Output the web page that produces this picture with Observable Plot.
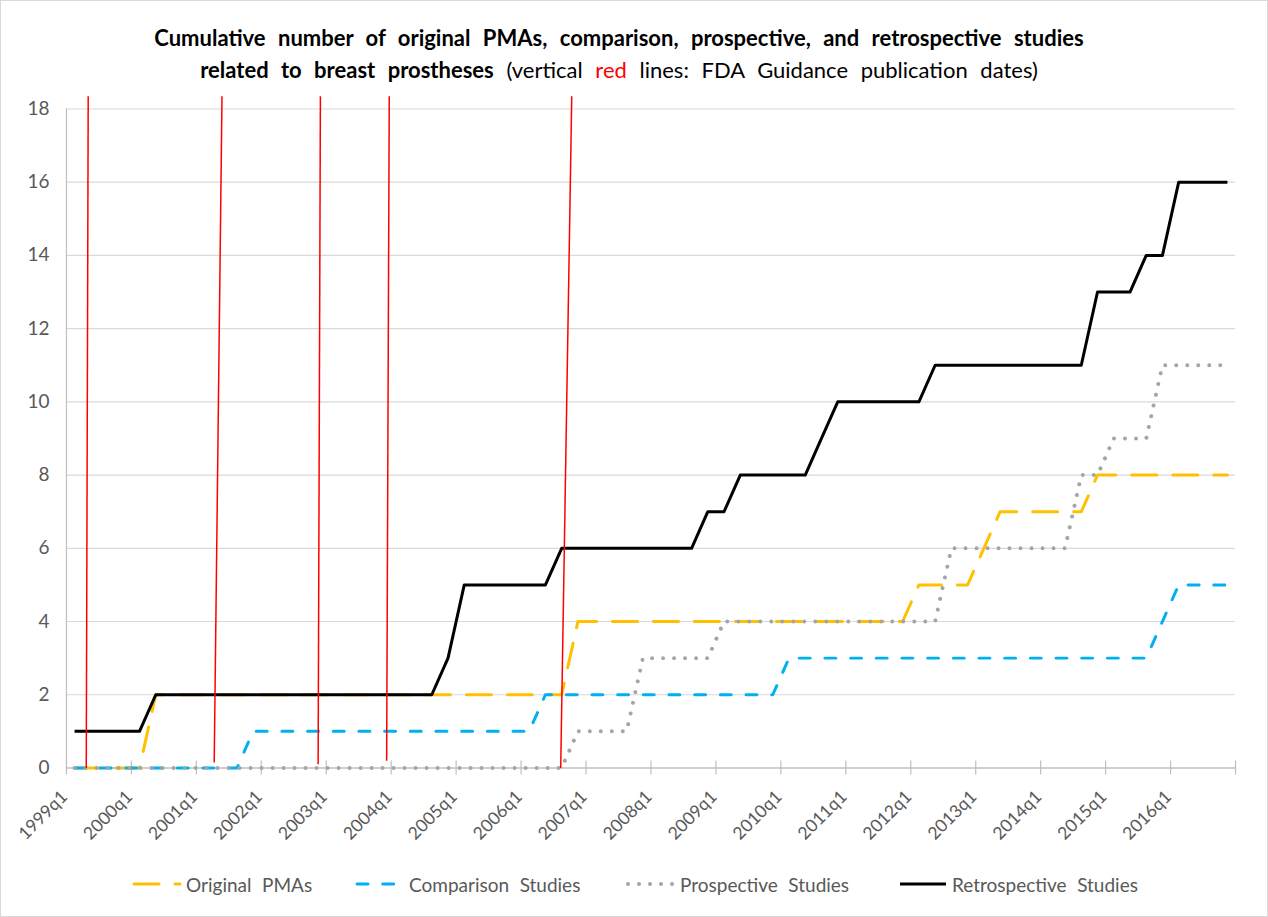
<!DOCTYPE html>
<html>
<head>
<meta charset="utf-8">
<script src="https://cdn.jsdelivr.net/npm/d3@7"></script>
<script src="https://cdn.jsdelivr.net/npm/@observablehq/plot@0.6"></script>
<style>
  html, body { margin: 0; padding: 0; background: #fff; }
  #wrap { position: relative; width: 1266px; height: 915px; border: 1px solid #d9d9d9; overflow: hidden;
          font-family: Lato, "Open Sans", sans-serif; }
  #title { position: absolute; left: 0; top: 21px; width: 1236px; text-align: center; font-size: 22px;
           line-height: 32px; color: #000; word-spacing: 0.32em; }
  #title b { font-weight: bold; }
  #chart { position: absolute; left: -1px; top: 79px; }
  .leg { position: absolute; top: 871px; height: 24px; display: flex; align-items: center;
         font-size: 19px; color: #595959; word-spacing: 0.3em; white-space: nowrap; }
  .leg svg { margin-right: 4px; }
</style>
</head>
<body>
<div id="wrap">
  <div id="title">
    <b>Cumulative number of original PMAs, comparison, prospective, and retrospective studies</b><br>
    <b>related to breast prostheses</b> (vertical <span style="color:#ff0000">red</span> lines: FDA Guidance publication dates)
  </div>
  <div id="chart"></div>
  <div id="legend"></div>
</div>
<script>
// ---- data (one value per quarter, 1999q1 .. 2016q4) ----
const tickLabels = ["1999q1","2000q1","2001q1","2002q1","2003q1","2004q1","2005q1","2006q1","2007q1",
                    "2008q1","2009q1","2010q1","2011q1","2012q1","2013q1","2014q1","2015q1","2016q1"];

const originalPMAs = [
  0,0,0,0,  0,2,2,2,  2,2,2,2,  2,2,2,2,  2,2,2,2,  2,2,2,2,  2,2,2,2,  2,2,2,4,  4,4,4,4,
  4,4,4,4,  4,4,4,4,  4,4,4,4,  4,4,4,4,  5,5,5,5,  6,7,7,7,  7,7,7,8,  8,8,8,8,  8,8,8,8];
const comparisonStudies = [
  0,0,0,0,  0,0,0,0,  0,0,0,1,  1,1,1,1,  1,1,1,1,  1,1,1,1,  1,1,1,1,  1,2,2,2,  2,2,2,2,
  2,2,2,2,  2,2,2,2,  3,3,3,3,  3,3,3,3,  3,3,3,3,  3,3,3,3,  3,3,3,3,  3,3,3,4,  5,5,5,5];
const prospectiveStudies = [
  0,0,0,0,  0,0,0,0,  0,0,0,0,  0,0,0,0,  0,0,0,0,  0,0,0,0,  0,0,0,0,  0,0,0,1,  1,1,1,3,
  3,3,3,3,  4,4,4,4,  4,4,4,4,  4,4,4,4,  4,4,6,6,  6,6,6,6,  6,6,8,8,  9,9,9,11, 11,11,11,11];
const retrospectiveStudies = [
  1,1,1,1,  1,2,2,2,  2,2,2,2,  2,2,2,2,  2,2,2,2,  2,2,2,3,  5,5,5,5,  5,5,6,6,  6,6,6,6,
  6,6,6,7,  7,8,8,8,  8,8,9,10, 10,10,10,10, 10,11,11,11, 11,11,11,11, 11,11,11,13, 13,13,14,14, 16,16,16,16];

// FDA guidance lines (quarter-axis position at top and bottom, as drawn)
const guidanceTopX    = [1.34, 9.58, 15.64, 19.88, 31.12];
const guidanceBottomX = [1.22, 9.10, 15.50, 19.72, 30.44];
const guidanceTopY    = [18.35, 18.35, 18.35, 18.35, 18.35];
const guidanceBottomY = [0, 0.15, 0.1, 0.2, 0];

const yTicks = [0,2,4,6,8,10,12,14,16,18];

const seriesNames = ["Original PMAs", "Comparison Studies", "Prospective Studies", "Retrospective Studies"];

// ---- build table ----
const rows = originalPMAs.map((v, i) => ({
  x: i + 0.5, orig: v, comp: comparisonStudies[i], pros: prospectiveStudies[i], retro: retrospectiveStudies[i]
}));
const nQ = originalPMAs.length;
const tickPos = tickLabels.map((d, i) => i * 4).concat([nQ]);
const labelRows = tickLabels.map((d, i) => ({pos: i * 4, label: d}));
const guides = guidanceTopX.map((d, i) => ({x1: guidanceBottomX[i], y1: guidanceBottomY[i], x2: d, y2: guidanceTopY[i]}));

const styles = {
  orig:  {stroke: "#FFC000", strokeWidth: 3, strokeDasharray: "25,16", strokeLinecap: "round"},
  comp:  {stroke: "#00B0F0", strokeWidth: 3, strokeDasharray: "11,14.7", strokeLinecap: "round"},
  pros:  {stroke: "#A5A5A5", strokeWidth: 4, strokeDasharray: "0.01,11", strokeLinecap: "round"},
  retro: {stroke: "#000000", strokeWidth: 3, strokeLinecap: "butt"}
};

const chart = Plot.plot({
  width: 1268,
  height: 770,
  marginLeft: 66,
  marginRight: 32,
  marginTop: 28.5,
  marginBottom: 82,
  style: {fontFamily: 'Lato, "Open Sans", sans-serif', fontSize: "17px", background: "transparent"},
  x: {type: "linear", domain: [0, nQ], axis: null},
  y: {domain: [0, 18], axis: null},
  marks: [
    Plot.ruleY(yTicks.filter(d => d > 0), {stroke: "#d9d9d9", strokeWidth: 1.2}),
    Plot.ruleX([0], {y1: 0, y2: 18, stroke: "#bfbfbf", strokeWidth: 1.2}),
    Plot.ruleY([0], {stroke: "#bfbfbf", strokeWidth: 1.5}),
    Plot.ruleX(tickPos, {x: d => d, y1: -0.19, y2: 0.19, stroke: "#bfbfbf", strokeWidth: 1.2}),
    Plot.text(yTicks, {x: 0, y: d => d, text: d => String(d), textAnchor: "end", dx: -17, fill: "#595959", fontSize: 19}),
    Plot.text(labelRows, {x: "pos", y: 0, text: "label", rotate: -45, textAnchor: "end", dx: -2, dy: 26, fill: "#595959", fontSize: 17.5}),
    Plot.line(rows, {x: "x", y: "orig", ...styles.orig, strokeLinejoin: "round"}),
    Plot.line(rows, {x: "x", y: "comp", ...styles.comp, strokeLinejoin: "round"}),
    Plot.line(rows, {x: "x", y: "pros", ...styles.pros, strokeLinejoin: "round"}),
    Plot.line(rows, {x: "x", y: "retro", ...styles.retro, strokeLinejoin: "round"}),
    Plot.link(guides, {x1: "x1", y1: "y1", x2: "x2", y2: "y2", stroke: "#ff0000", strokeWidth: 1.5})
  ]
});
document.getElementById("chart").appendChild(chart);

// ---- legend ----
const legendKeys = ["orig", "comp", "pros", "retro"];
const legendLeft = [131, 354, 625, 897];
const legend = document.getElementById("legend");
legendKeys.forEach((k, i) => {
  const s = styles[k];
  const item = document.createElement("div");
  item.className = "leg";
  item.style.left = legendLeft[i] + "px";
  item.innerHTML = `<svg width="50" height="12"><line x1="2" y1="6" x2="48" y2="6" stroke="${s.stroke}"
    stroke-width="${s.strokeWidth}" ${s.strokeDasharray ? `stroke-dasharray="${s.strokeDasharray}"` : ""}
    stroke-linecap="${s.strokeLinecap}"/></svg><span>${seriesNames[i]}</span>`;
  legend.appendChild(item);
});
</script>
</body>
</html>
